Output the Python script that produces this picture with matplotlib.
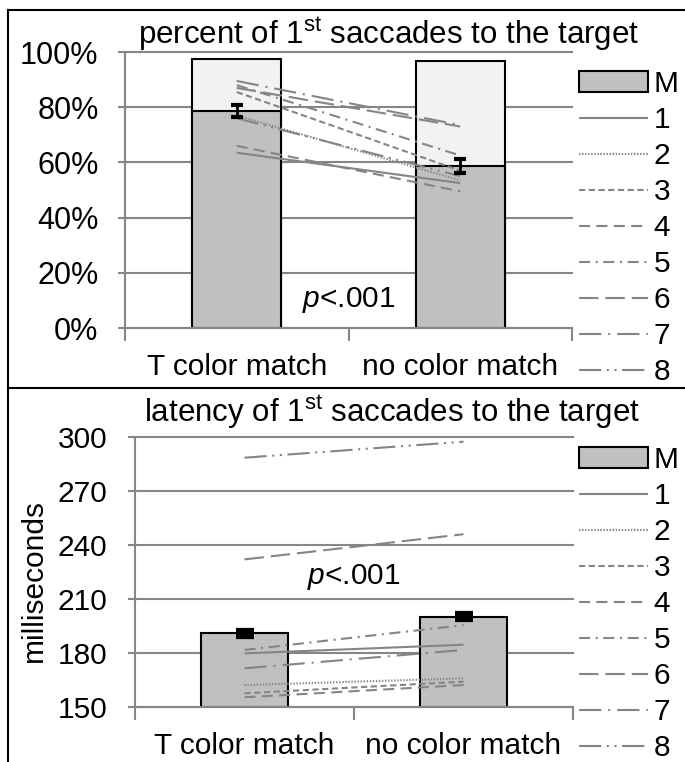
import matplotlib
matplotlib.use("Agg")
import matplotlib.pyplot as plt
from matplotlib.lines import Line2D
from matplotlib.patches import Patch

plt.rcParams['font.family'] = ['Liberation Sans', 'DejaVu Sans']
plt.rcParams['mathtext.fontset'] = 'custom'
plt.rcParams['mathtext.rm'] = 'Liberation Sans'
plt.rcParams['mathtext.it'] = 'Liberation Sans:italic'
plt.rcParams['lines.scale_dashes'] = False

# data
conditions = ["T color match", "no color match"]
subjects = ["1", "2", "3", "4", "5", "6", "7", "8"]

pct_mean = [0.785, 0.587]
pct_err = [0.022, 0.025]
pct_any = [0.975, 0.968]      # height of the light bar on top
pct_subj = [
    [0.635, 0.525],
    [0.770, 0.535],
    [0.855, 0.570],
    [0.660, 0.495],
    [0.880, 0.625],
    [0.870, 0.730],
    [0.895, 0.735],
    [0.760, 0.550],
]

lat_mean = [190.9, 200.2]
lat_err = [1.4, 1.4]
lat_subj = [
    [179.8, 184.6],
    [162.2, 165.9],
    [157.6, 164.1],
    [155.4, 162.2],
    [181.7, 195.5],
    [232.0, 246.0],
    [171.5, 181.7],
    [288.5, 297.4],
]

W, H = 685, 762
GRID = "#868686"
LINE = "#858585"
BAR = "#c0c0c0"
LIGHT = "#f2f2f2"
FS = 21.5
TITLE_FS = 22.5

dashes = [
    (0, ()),
    (0, (1, 1.2)),
    (0, (4.5, 2.5)),
    (0, (8, 4.5)),
    (0, (8, 4, 1.5, 4)),
    (0, (14, 5)),
    (0, (16, 5, 1.5, 5)),
    (0, (16, 4, 1.5, 4, 1.5, 4)),
]


def fx(px):
    return px / W


def fy(py):
    return 1 - py / H


def style_axes(ax, ypad, ysize):
    ax.set_xlim(-0.5, 1.5)
    for s in ["top", "right"]:
        ax.spines[s].set_visible(False)
    for s in ["left", "bottom"]:
        ax.spines[s].set_color(GRID)
        ax.spines[s].set_linewidth(1.5)
    ax.yaxis.grid(True, color=GRID, linewidth=1.5)
    ax.set_axisbelow(True)
    ax.set_xticks([-0.5, 0.5, 1.5])
    ax.set_xticklabels([])
    ax.set_xticks([0, 1], minor=True)
    ax.set_xticklabels(conditions, minor=True)
    ax.tick_params(axis="x", which="major", direction="out", length=9,
                   width=1.5, color=GRID)
    ax.tick_params(axis="x", which="minor", length=0, pad=18, labelsize=FS)
    ax.tick_params(axis="y", direction="out", length=5, width=1.5,
                   color=GRID, labelsize=ysize, pad=ypad)


def add_legend(ax, top_px):
    handles = [Patch(facecolor=BAR, edgecolor="black", linewidth=1.5)]
    for ls in dashes:
        handles.append(Line2D([], [], color=LINE, linewidth=1.5, linestyle=ls))
    ax.legend(handles, ["M"] + subjects, loc="upper left",
              bbox_to_anchor=(fx(579), fy(top_px)),
              bbox_transform=ax.figure.transFigure, frameon=False,
              fontsize=FS, handlelength=2.3, handletextpad=0.2,
              labelspacing=0.27, borderpad=0, borderaxespad=0)


fig = plt.figure(figsize=(W / 100, H / 100), dpi=100)

# ---- top panel: percent
ax1 = fig.add_axes([fx(125), fy(328), fx(572 - 125), (328 - 52) / H])
style_axes(ax1, 14, 22)
ax1.set_ylim(0, 1)
ax1.set_yticks([0, 0.2, 0.4, 0.6, 0.8, 1.0])
ax1.set_yticklabels(["0%", "20%", "40%", "60%", "80%", "100%"])
x = [0, 1]
ax1.bar(x, pct_any, width=0.4, color=LIGHT, edgecolor="black",
        linewidth=1.5, zorder=2)
ax1.bar(x, pct_mean, width=0.4, color=BAR, edgecolor="black",
        linewidth=1.5, zorder=2)
for vals, ls in zip(pct_subj, dashes):
    ax1.plot(x, vals, color=LINE, linewidth=1.5, linestyle=ls, zorder=3)
ax1.errorbar(x, pct_mean, yerr=pct_err, fmt="none", ecolor="black",
             elinewidth=2, capsize=4.5, capthick=3, zorder=4)
ax1.text(0.5, 0.1, r"$\mathit{p}$<.001", ha="center", va="center",
         fontsize=FS, zorder=5)
for ln in ax1.get_ygridlines():
    ln.set_clip_on(False)
add_legend(ax1, 70)
fig.text(fx(389), fy(34), r"percent of 1$^{\mathrm{st}}$ saccades to the target",
         ha="center", va="center", fontsize=TITLE_FS)

# ---- bottom panel: latency
ax2 = fig.add_axes([fx(135), fy(707), fx(573 - 135), (707 - 437) / H])
style_axes(ax2, 15, FS)
ax2.set_ylim(150, 300)
ax2.set_yticks([150, 180, 210, 240, 270, 300])
ax2.bar(x, [m - 150 for m in lat_mean], bottom=150, width=0.4, color=BAR,
        edgecolor="black", linewidth=1.5, zorder=2)
for vals, ls in zip(lat_subj, dashes):
    ax2.plot(x, vals, color=LINE, linewidth=1.5, linestyle=ls, zorder=3)
ax2.errorbar(x, lat_mean, yerr=lat_err, fmt="none", ecolor="black",
             elinewidth=2, capsize=6.5, capthick=4.5, zorder=4)
ax2.text(0.5, 222, r"$\mathit{p}$<.001", ha="center", va="center",
         fontsize=FS, zorder=5)
ax2.set_ylabel("milliseconds", fontsize=FS)
ax2.yaxis.set_label_coords((48 - 135) / (573 - 135), 0.47)
for ln in ax2.get_ygridlines():
    ln.set_clip_on(False)
add_legend(ax2, 446)
fig.text(fx(392), fy(412), r"latency of 1$^{\mathrm{st}}$ saccades to the target",
         ha="center", va="center", fontsize=TITLE_FS)

# outer frame lines
frame = dict(color="black", linewidth=1.5, transform=fig.transFigure)
fig.add_artist(Line2D([fx(8), fx(8)], [fy(10), 0], **frame))
fig.add_artist(Line2D([fx(8), 1], [fy(10), fy(10)], **frame))
fig.add_artist(Line2D([fx(8), 1], [fy(388), fy(388)], **frame))

fig.savefig("out.png", dpi=100)
